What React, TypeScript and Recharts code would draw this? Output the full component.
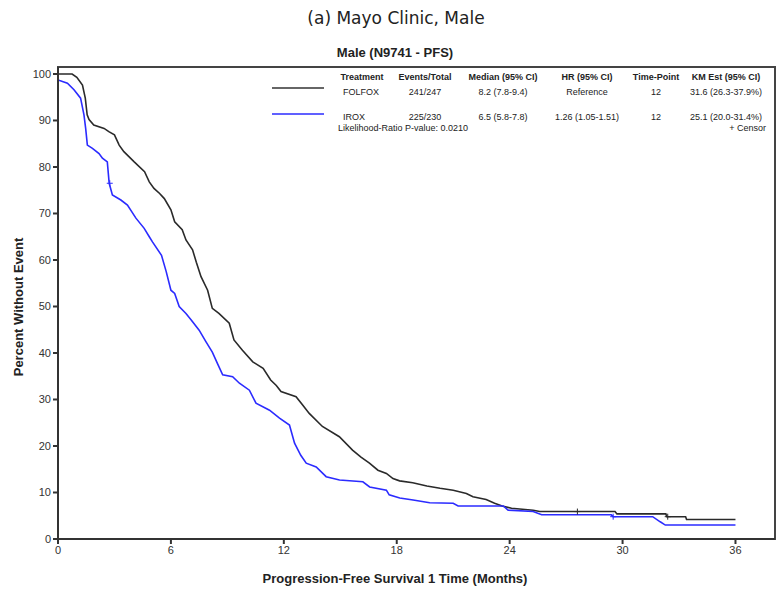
import React from 'react';
import {
  ComposedChart,
  Line,
  Scatter,
  XAxis,
  YAxis,
  ReferenceArea,
} from 'recharts';

// Kaplan-Meier PFS (months, percent without event)
const folfoxMonths = [
  0, 0.75, 1.0, 1.3, 1.45, 1.55, 1.65, 1.9, 2.45, 2.7, 3.0, 3.25, 3.5, 4.05, 4.6, 4.85,
  5.1, 5.4, 5.65, 6.0, 6.2, 6.6, 6.8, 7.15, 7.35, 7.6, 7.95, 8.2, 8.55, 9.1, 9.35, 9.8,
  10.35, 10.9, 11.3, 11.6, 11.85, 12.65, 13.0, 13.35, 14.05, 14.95, 15.65, 16.1, 16.55,
  17.0, 17.45, 17.8, 18.15, 18.85, 19.6, 20.3, 21.0, 21.7, 22.05, 22.75, 23.2, 23.6, 24.1,
  25.25, 25.6, 29.6, 29.7, 32.3, 32.35, 33.35, 33.4, 36,
];
const folfoxPct = [
  100, 100, 99.3, 97.6, 94.8, 91.2, 90.2, 89, 88.3, 87.6, 86.9, 84.7, 83.3, 81.1, 79, 76.8,
  75.4, 74.3, 73.2, 70.8, 68.2, 66.5, 64.3, 62.2, 59.5, 56.4, 53.5, 49.6, 48.5, 46.4, 42.8, 40.6,
  38.1, 36.7, 34.2, 33.0, 31.7, 30.6, 28.8, 27.0, 24.2, 22.0, 19.1, 17.6, 16.3,
  14.8, 14.1, 13.0, 12.5, 12.1, 11.4, 10.9, 10.5, 9.8, 9.1, 8.5, 7.7, 7.1, 6.6,
  6.2, 5.9, 5.9, 5.4, 5.4, 4.8, 4.8, 4.2, 4.2,
];
const iroxMonths = [
  0, 0.5, 0.85, 1.2, 1.38, 1.47, 1.56, 1.83, 2.18, 2.36, 2.62, 2.72, 2.89, 3.34, 3.69, 4.14,
  4.58, 4.85, 5.02, 5.5, 5.75, 6.0, 6.2, 6.44, 6.8, 7.1, 7.5, 7.85, 8.2, 8.5, 8.75, 9.28,
  9.64, 10.17, 10.52, 11.24, 11.77, 12.3, 12.57, 12.9, 13.19, 13.72, 14.25, 14.96, 16.2,
  16.56, 17.45, 17.6, 18.16, 18.87, 19.75, 21.0, 21.26, 23.66, 23.92, 25.25, 25.7, 29.4,
  29.5, 31.6, 32.0, 32.27, 36,
];
const iroxPct = [
  98.7, 98.0, 96.6, 94.8, 91.2, 88.3, 84.7, 84.0, 82.9, 81.9, 81.1, 76.5, 74.0, 72.9, 71.8, 69.0,
  66.8, 65.0, 63.9, 61.0, 57.5, 53.5, 52.8, 50.0, 48.5, 47.0, 44.9, 42.5, 40.2, 37.5, 35.3, 34.9,
  33.5, 32.0, 29.2, 27.7, 26.0, 24.5, 20.6, 18.0, 16.3, 15.5, 13.4, 12.7, 12.3,
  11.2, 10.5, 9.5, 8.8, 8.4, 7.8, 7.7, 7.1, 7.1, 6.2, 5.9, 5.2, 5.2,
  4.8, 4.8, 3.7, 3.0, 3.0,
];

// censored observations (+)
const folfoxCensorMonths = [27.6, 32.4];
const folfoxCensorPct = [5.9, 4.8];
const iroxCensorMonths = [2.75, 29.5];
const iroxCensorPct = [76.5, 4.8];

const xTicks = [0, 6, 12, 18, 24, 30, 36];
const yTicks = [0, 10, 20, 30, 40, 50, 60, 70, 80, 90, 100];

const tableHeader = ['Treatment', 'Events/Total', 'Median (95% CI)', 'HR (95% CI)', 'Time-Point', 'KM Est (95% CI)'];
const folfoxRow = ['FOLFOX', '241/247', '8.2 (7.8-9.4)', 'Reference', '12', '31.6 (26.3-37.9%)'];
const iroxRow = ['IROX', '225/230', '6.5 (5.8-7.8)', '1.26 (1.05-1.51)', '12', '25.1 (20.0-31.4%)'];

const toPoints = (t: number[], s: number[]) => t.map((v, i) => ({ t: v, s: s[i] }));
const folfox = toPoints(folfoxMonths, folfoxPct);
const irox = toPoints(iroxMonths, iroxPct);
const folfoxCensor = toPoints(folfoxCensorMonths, folfoxCensorPct);
const iroxCensor = toPoints(iroxCensorMonths, iroxCensorPct);

const X_MAX = 38.1;
const Y_MAX = 101.5;
const FONT = '"Liberation Sans", Arial, sans-serif';

const plus = (color: string) => (props: any) => {
  const { cx, cy } = props;
  return (
    <path
      d={`M${cx - 3},${cy}h6M${cx},${cy - 3}v6`}
      stroke={color}
      strokeWidth={1}
      fill="none"
    />
  );
};

const colX = [362, 425, 503, 587, 656, 726];

const Overlay = () => (
  <svg
    width={780}
    height={591}
    style={{ position: 'absolute', left: 0, top: 0, pointerEvents: 'none' }}
  >
    <text x={396} y={24} textAnchor="middle" fontFamily='"DejaVu Sans", sans-serif' fontSize={17} fill="#222">
      (a) Mayo Clinic, Male
    </text>
    <text x={395} y={57} textAnchor="middle" fontFamily={FONT} fontSize={13} fontWeight="bold" fill="#222">
      Male (N9741 - PFS)
    </text>

    {/* legend table */}
    <g fontFamily={FONT} fontSize={9} fill="#222">
      {tableHeader.map((h, i) => (
        <text key={h} x={colX[i]} y={80} textAnchor="middle" fontWeight="bold">{h}</text>
      ))}
      {folfoxRow.map((v, i) => (
        <text key={'f' + i} x={i === 0 ? 343 : colX[i]} y={95} textAnchor={i === 0 ? 'start' : 'middle'}>{v}</text>
      ))}
      {iroxRow.map((v, i) => (
        <text key={'i' + i} x={i === 0 ? 343 : colX[i]} y={120} textAnchor={i === 0 ? 'start' : 'middle'}>{v}</text>
      ))}
      <text x={338} y={131}>Likelihood-Ratio P-value: 0.0210</text>
      <text x={766} y={131} textAnchor="end">+  Censor</text>
    </g>
    <line x1={272} x2={324} y1={88} y2={88} stroke="#333" strokeWidth={1.5} />
    <line x1={272} x2={324} y1={114} y2={114} stroke="#2b2bff" strokeWidth={1.5} />

    <text
      transform="translate(23,307) rotate(-90)"
      textAnchor="middle"
      fontFamily={FONT}
      fontSize={13}
      fontWeight="bold"
      fill="#222"
    >
      Percent Without Event
    </text>
    <text x={395} y={583} textAnchor="middle" fontFamily={FONT} fontSize={13} fontWeight="bold" fill="#222">
      Progression-Free Survival 1 Time (Months)
    </text>
  </svg>
);

export default function App() {
  return (
    <div style={{ position: 'absolute', left: 0, top: 0, width: 780, height: 591, background: '#fff' }}>
      <ComposedChart
        width={780}
        height={591}
        margin={{ top: 67, right: 5, bottom: 22, left: 18 }}
      >
        <XAxis
          type="number"
          dataKey="t"
          domain={[0, X_MAX]}
          ticks={xTicks}
          height={30}
          stroke="#333"
          strokeWidth={2}
          tickSize={5}
          tick={{ fontSize: 11, fill: '#333', fontFamily: FONT }}
          allowDataOverflow
        />
        <YAxis
          type="number"
          dataKey="s"
          domain={[0, Y_MAX]}
          ticks={yTicks}
          width={40}
          stroke="#333"
          strokeWidth={2}
          tickSize={5}
          tick={{ fontSize: 11, fill: '#333', fontFamily: FONT }}
          allowDataOverflow
        />
        <ReferenceArea
          x1={0}
          x2={X_MAX}
          y1={0}
          y2={Y_MAX}
          fill="none"
          fillOpacity={0}
          stroke="#444"
          strokeWidth={2}
          ifOverflow="visible"
        />
        <Line
          data={folfox}
          dataKey="s"
          type="linear"
          stroke="#2a2a2a"
          strokeWidth={1.6}
          dot={false}
          isAnimationActive={false}
        />
        <Line
          data={irox}
          dataKey="s"
          type="linear"
          stroke="#2b2bff"
          strokeWidth={1.6}
          dot={false}
          isAnimationActive={false}
        />
        <Scatter data={folfoxCensor} dataKey="s" shape={plus('#2a2a2a')} isAnimationActive={false} />
        <Scatter data={iroxCensor} dataKey="s" shape={plus('#2b2bff')} isAnimationActive={false} />
      </ComposedChart>
      <Overlay />
    </div>
  );
}
